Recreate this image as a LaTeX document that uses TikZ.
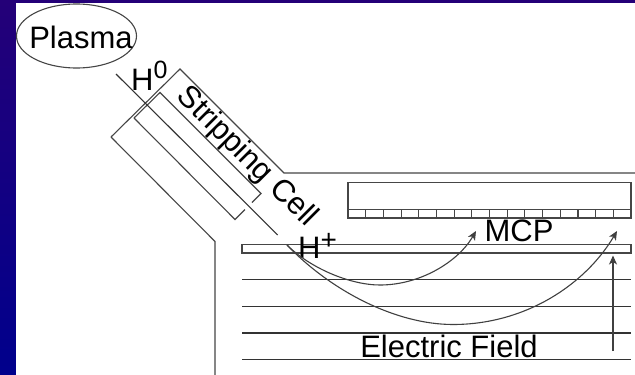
\documentclass[tikz,border=0pt]{standalone}
\usepackage{fontspec}
\setmainfont{Liberation Sans}
\usetikzlibrary{arrows.meta,shapes.geometric}
\definecolor{slidetop}{RGB}{36,0,120}
\definecolor{slidebottom}{RGB}{0,0,140}
\definecolor{wallgray}{RGB}{70,70,70}

\begin{document}
\begin{tikzpicture}
      [x=1pt, y=-1pt,
      wall line/.style={draw=wallgray, line width=1.1pt},
      field line/.style={draw=black!80, line width=1.1pt},
      path arrow/.style={draw=black!75, line width=1.1pt, -{Stealth[length=9pt,width=8pt,inset=2.5pt]}},
      label text/.style={inner sep=0pt, text=black, font=\fontsize{31}{36}\selectfont},
      ]
      \useasboundingbox (0,0) rectangle (635,375);
      \shade[top color=slidetop, bottom color=slidebottom] (0,0) rectangle (635,375);
      \fill[white] (16,3) rectangle (635,375);

      % source
      \node[draw=wallgray, line width=1.1pt, ellipse, minimum width=120pt, minimum height=64pt, inner sep=0pt] (plasma) at (76.5,36) {};
      \node[label text] (plasmatext) at (81,37) {Plasma};
      \node[label text, anchor=base west] (hzero) at (131,90) {H\raisebox{12pt}{\fontsize{25}{29}\selectfont 0}};

      % stripping cell
      \draw[wall line] (111,137) -- (180,69) -- (284,173) -- (635,173);
      \draw[wall line] (111,137) -- (215,241.5) -- (215,375);
      \draw[wall line] (134,118) -- (160,92.5) -- (261,193.5) -- (252,202.5);
      \draw[wall line] (134,118) -- (235,219.5) -- (245,209.5);
      \draw[field line] (116,74) -- (277.7,235);
      \node[label text, rotate=-45] (celltext) at (246.5,157) {Stripping Cell};

      % detector
      \draw[wall line] (348,182.5) rectangle (631,218);
      \draw[wall line] (348,209.5) -- (631,209.5);
      \foreach \i in {1,...,15}
        \draw[wall line] (348+17.69*\i,209.5) -- (348+17.69*\i,218);
      \node[label text] (mcptext) at (519,231) {MCP};

      % field plates
      \draw[wall line] (242,244.5) rectangle (631,253);
      \foreach \y in {279.5,306.2,333,359.5}
        \draw[field line] (242,\y) -- (631,\y);
      \node[label text] (fieldtext) at (449,346) {Electric Field};
      \node[label text, anchor=base west] (hplus) at (298,258) {H\raisebox{8.5pt}{\fontsize{28}{32}\selectfont +}};

      % trajectories
      \coordinate (beamend) at (287,245);
      \coordinate (tipone) at (476,231);
      \coordinate (tiptwo) at (617,231);
      \coordinate (fieldfoot) at (613,351);
      \coordinate (fieldtip) at (613,255.5);
      \draw[path arrow] (beamend) .. controls (310,268) and (350,285) .. (380,285) .. controls (420,285) and (458,262) .. (tipone);
      \draw[path arrow] (beamend) .. controls (330,290) and (395,324.5) .. (453,324.5) .. controls (525,324.5) and (585,285) .. (tiptwo);
      \draw[path arrow] (fieldfoot) -- (fieldtip);
\end{tikzpicture}
\end{document}
